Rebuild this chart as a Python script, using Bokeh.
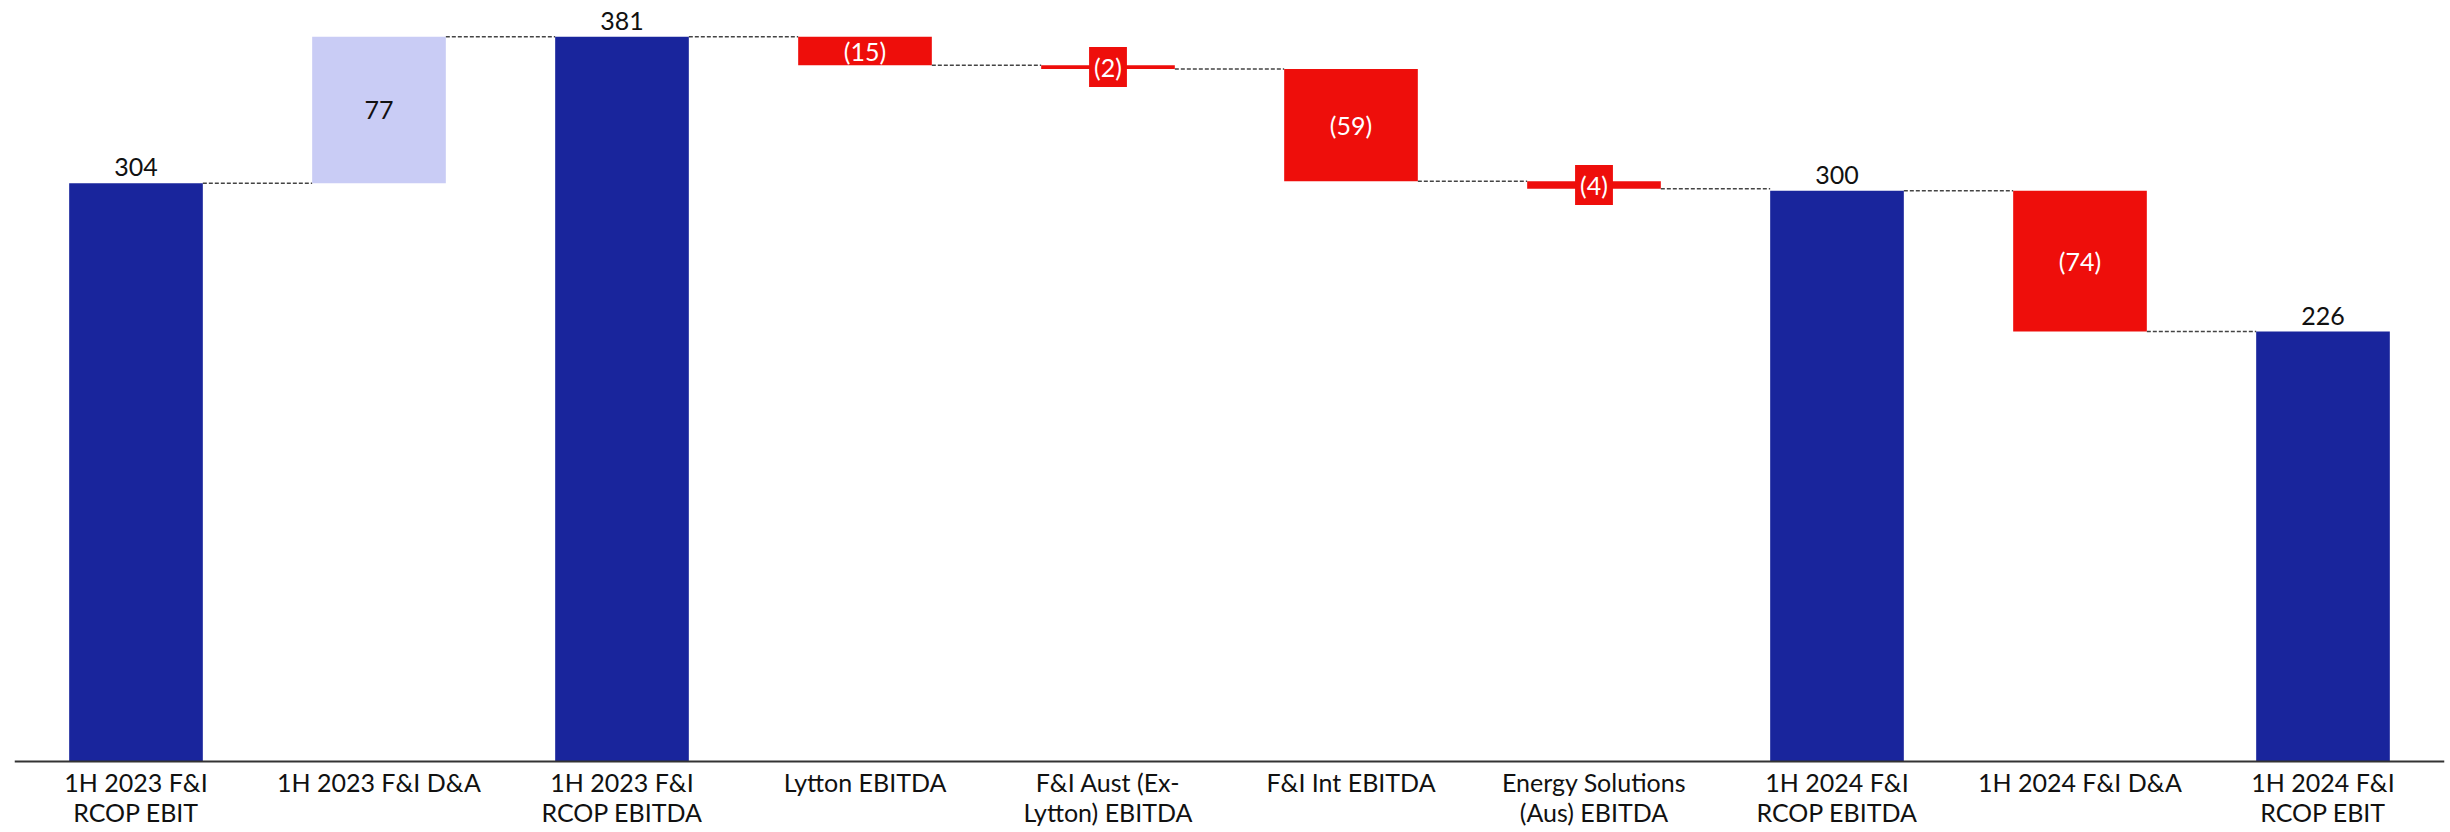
from bokeh.plotting import figure
from bokeh.models import ColumnDataSource, Range1d, FactorRange, Span
from bokeh.transform import dodge
from bokeh.core.properties import value
from bokeh.embed import file_html
from bokeh.resources import INLINE

# Bridge steps, left to right
categories = [
    "1H 2023 F&I\nRCOP EBIT",
    "1H 2023 F&I D&A",
    "1H 2023 F&I\nRCOP EBITDA",
    "Lytton EBITDA",
    "F&I Aust (Ex-\nLytton) EBITDA",
    "F&I Int EBITDA",
    "Energy Solutions\n(Aus) EBITDA",
    "1H 2024 F&I\nRCOP EBITDA",
    "1H 2024 F&I D&A",
    "1H 2024 F&I\nRCOP EBIT",
]
values = [304, 77, 381, -15, -2, -59, -4, 300, -74, 226]
kinds = ["total", "up", "total", "down", "down", "down", "down", "total", "down", "total"]

BLUE = "#19259C"
LILAC = "#C9CCF5"
RED = "#EE0E0B"
FONT = "Lato"
BAR_W = 0.55

# Work out the floating segments of the waterfall
bottoms, tops, colors, labels = [], [], [], []
level = 0
for v, k in zip(values, kinds):
    if k == "total":
        bottoms.append(0)
        tops.append(v)
        colors.append(BLUE)
        labels.append(str(v))
        level = v
    elif k == "up":
        bottoms.append(level)
        tops.append(level + v)
        colors.append(LILAC)
        labels.append(str(v))
        level += v
    else:
        bottoms.append(level + v)
        tops.append(level)
        colors.append(RED)
        labels.append(f"({-v})")
        level += v

src = ColumnDataSource(dict(cat=categories, bottom=bottoms, top=tops, color=colors, label=labels))

# Value axis runs 0..400 over the top 761 px; the strip below zero holds
# the category names.
Y_TOP = 400
Y_BOTTOM = -Y_TOP * 71 / 761

p = figure(
    x_range=FactorRange(*categories, range_padding=0),
    y_range=Range1d(Y_BOTTOM, Y_TOP),
    width=2450,
    height=832,
    output_backend="svg",
    toolbar_location=None,
    x_axis_location=None,
    y_axis_location=None,
    min_border_left=14,
    min_border_right=6,
    min_border_top=0,
    min_border_bottom=0,
)
p.outline_line_color = None
p.xgrid.grid_line_color = None
p.ygrid.grid_line_color = None
p.background_fill_color = "white"
p.border_fill_color = "white"

# Dashed connectors between consecutive bars
conn_level = []
for i in range(len(values) - 1):
    if kinds[i] in ("total", "up"):
        conn_level.append(tops[i])
    else:
        conn_level.append(bottoms[i])
conn = ColumnDataSource(dict(a=categories[:-1], b=categories[1:], y=conn_level))
p.segment(
    x0=dodge("a", BAR_W / 2, range=p.x_range), y0="y",
    x1=dodge("b", -BAR_W / 2, range=p.x_range), y1="y",
    source=conn, line_color="#444444", line_width=1.5, line_dash="4 2",
)

p.vbar(x="cat", bottom="bottom", top="top", width=BAR_W, fill_color="color",
       line_color=None, source=src)

# Baseline
p.add_layout(Span(location=0, dimension="width", line_color="#333333", line_width=2))

# Category names under the baseline
names = ColumnDataSource(dict(cat=categories, y=[0] * len(categories)))
p.text(x="cat", y="y", text="cat", source=names, text_align="center",
       text_baseline="top", y_offset=5, text_font=value(FONT),
       text_font_size="25px", text_color="#111111", text_line_height=1.03)

# Totals: value above the bar
tot_idx = [i for i, k in enumerate(kinds) if k == "total"]
tot = ColumnDataSource(dict(cat=[categories[i] for i in tot_idx],
                            y=[tops[i] for i in tot_idx],
                            label=[labels[i] for i in tot_idx]))
p.text(x="cat", y="y", text="label", source=tot, text_align="center",
       text_baseline="bottom", y_offset=-7, text_font=value(FONT),
       text_font_size="25px", text_color="#111111")

# Increase: label inside the bar
up_idx = [i for i, k in enumerate(kinds) if k == "up"]
up = ColumnDataSource(dict(cat=[categories[i] for i in up_idx],
                           y=[(tops[i] + bottoms[i]) / 2 for i in up_idx],
                           label=[labels[i] for i in up_idx]))
p.text(x="cat", y="y", text="label", source=up, text_align="center",
       text_baseline="middle", text_font=value(FONT),
       text_font_size="25px", text_color="#111111")

# Decreases: white label inside the bar; thin bars get a red tag behind it
def down_source(small):
    idx = [i for i, k in enumerate(kinds)
           if k == "down" and (abs(values[i]) < 10) == small]
    return ColumnDataSource(dict(cat=[categories[i] for i in idx],
                                 y=[(tops[i] + bottoms[i]) / 2 for i in idx],
                                 label=[labels[i] for i in idx]))

p.text(x="cat", y="y", text="label", source=down_source(False), text_align="center",
       text_baseline="middle", text_font=value(FONT),
       text_font_size="25px", text_color="white")
p.text(x="cat", y="y", text="label", source=down_source(True), text_align="center",
       text_baseline="middle", text_font=value(FONT),
       text_font_size="25px", text_color="white",
       background_fill_color=RED, padding=5)

open("out.html", "w").write(file_html(p, INLINE))
